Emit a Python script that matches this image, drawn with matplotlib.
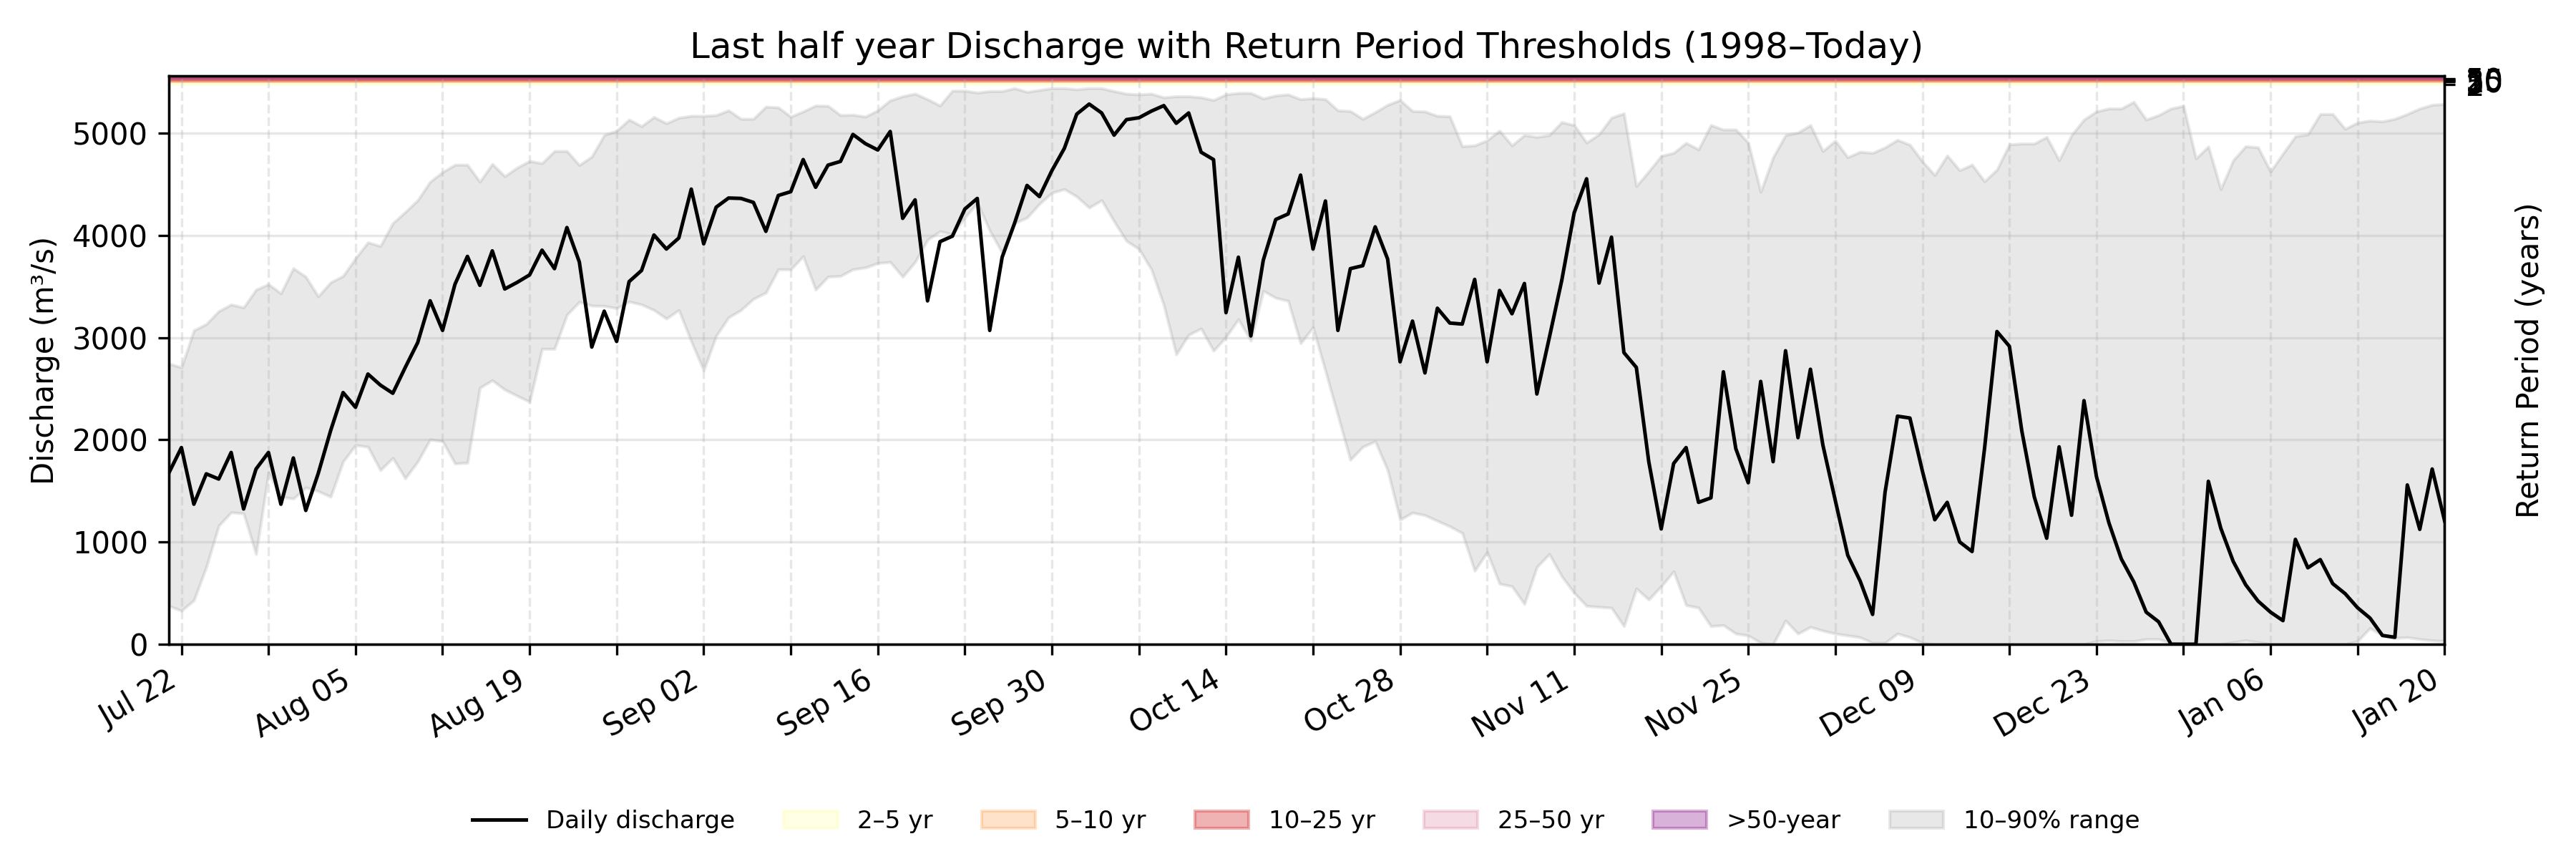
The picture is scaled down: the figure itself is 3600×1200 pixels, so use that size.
import numpy as np
import pandas as pd
import matplotlib
matplotlib.use("Agg")
import matplotlib.pyplot as plt
import matplotlib.dates as mdates

# daily values, 2024-07-21 .. 2025-01-20
start_date = "2024-07-21"

discharge = [
    1678, 1924, 1370, 1667, 1616, 1876, 1323, 1714, 1876, 1370, 1822, 1309, 1670, 2090,
    2462, 2318, 2643, 2535, 2455, 2708, 2951, 3360, 3070, 3522, 3794, 3511, 3848, 3475,
    3540, 3613, 3855, 3674, 4076, 3739, 2907, 3258, 2962, 3547, 3656, 4003, 3866, 3974,
    4452, 3917, 4275, 4365, 4361, 4322, 4039, 4390, 4427, 4741, 4470, 4687, 4723, 4987,
    4897, 4835, 5016, 4166, 4347, 3359, 3938, 3992, 4257, 4361, 3070, 3786, 4119, 4488,
    4379, 4633, 4850, 5186, 5284, 5197, 4980, 5132, 5150, 5215, 5269, 5096, 5197, 4813,
    4741, 3244, 3786, 3016, 3757, 4155, 4209, 4589, 3866, 4336, 3070, 3674, 3703, 4083,
    3768, 2763, 3161, 2654, 3287, 3142, 3132, 3569, 2763, 3461, 3233, 3529, 2448, 2998,
    3558, 4220, 4553, 3533, 3982, 2853, 2708, 1786, 1128, 1768, 1924, 1388, 1432, 2665,
    1913, 1580, 2571, 1786, 2871, 2021, 2690, 1949, 1406, 871, 618, 292, 1486, 2231,
    2213, 1696, 1218, 1388, 1001, 907, 1913, 3059, 2915, 2086, 1443, 1037, 1931, 1262,
    2383, 1641, 1189, 835, 610, 314, 220, 0, 0, 0, 1594, 1135, 810, 582,
    422, 314, 231, 1026, 748, 828, 593, 495, 357, 256, 86, 68, 1558, 1124,
    1714, 1207,
]

q90 = [
    2745, 2708, 3070, 3132, 3258, 3323, 3294, 3468, 3522, 3432, 3678, 3595, 3403, 3540,
    3602, 3775, 3931, 3895, 4119, 4228, 4343, 4524, 4618, 4690, 4690, 4524, 4698, 4578,
    4662, 4727, 4705, 4824, 4824, 4687, 4770, 4980, 5023, 5132, 5067, 5157, 5096, 5150,
    5168, 5168, 5175, 5222, 5139, 5139, 5258, 5251, 5161, 5211, 5269, 5266, 5175, 5179,
    5161, 5222, 5320, 5360, 5385, 5331, 5269, 5414, 5414, 5396, 5410, 5410, 5439, 5403,
    5421, 5439, 5439, 5428, 5439, 5439, 5410, 5385, 5378, 5385, 5349, 5360, 5360, 5349,
    5323, 5378, 5392, 5392, 5338, 5367, 5378, 5331, 5342, 5331, 5222, 5215, 5139, 5204,
    5276, 5323, 5215, 5211, 5168, 5164, 4871, 4879, 4929, 5023, 4879, 4980, 4962, 4980,
    5107, 5078, 4907, 4987, 5150, 5193, 4481, 4625, 4777, 4806, 4904, 4840, 5078, 5034,
    5034, 4907, 4426, 4763, 4980, 5005, 5078, 4824, 4926, 4763, 4817, 4806, 4860, 4933,
    4886, 4723, 4589, 4781, 4636, 4691, 4528, 4643, 4889, 4897, 4897, 4962, 4734, 4980,
    5132, 5211, 5240, 5240, 5305, 5132, 5175, 5240, 5266, 4752, 4868, 4452, 4734, 4871,
    4860, 4625, 4799, 4969, 4987, 5186, 5186, 5041, 5103, 5121, 5114, 5139, 5186, 5240,
    5276, 5284,
]

q10 = [
    375, 328, 430, 755, 1160, 1290, 1280, 882, 1678, 1443, 1424, 1533, 1497, 1443,
    1786, 1949, 1931, 1703, 1822, 1623, 1786, 2003, 1985, 1768, 1775, 2509, 2582, 2491,
    2430, 2372, 2889, 2889, 3222, 3349, 3312, 3309, 3287, 3352, 3323, 3269, 3186, 3269,
    2962, 2679, 3016, 3197, 3269, 3378, 3439, 3667, 3667, 3794, 3468, 3595, 3602, 3667,
    3685, 3728, 3739, 3595, 3739, 3956, 4039, 4010, 4173, 4318, 4047, 3830, 4119, 4173,
    4307, 4416, 4452, 4379, 4271, 4343, 4137, 3945, 3866, 3667, 3316, 2835, 3027, 3088,
    2871, 3005, 3179, 2969, 3457, 3388, 3359, 2944, 3099, 2672, 2238, 1804, 1931, 1985,
    1703, 1218, 1287, 1262, 1207, 1153, 1088, 719, 900, 592, 567, 394, 755, 882,
    665, 502, 375, 365, 357, 177, 545, 437, 567, 712, 383, 357, 177, 187,
    104, 86, 14, 0, 231, 104, 169, 133, 104, 86, 68, 14, 14, 104,
    68, 14, 0, 0, 0, 0, 0, 0, 0, 0, 0, 0, 0, 0,
    0, 30, 37, 30, 30, 50, 50, 14, 0, 0, 0, 0, 20, 37,
    20, 0, 0, 0, 0, 0, 0, 0, 30, 158, 86, 61, 68, 50,
    37, 30,
]

# return period thresholds (m3/s)
rp_labels = ["2", "5", "10", "25", "50"]
rp_values = [5476, 5504, 5511, 5522, 5532]
y_top = 5560

dates = pd.date_range(start_date, periods=len(discharge), freq="D")

fig, ax = plt.subplots(figsize=(12, 4), dpi=300)
fig.subplots_adjust(left=0.0656, right=0.949, top=0.9117, bottom=0.25)

ax.plot(dates, discharge, color="black", lw=1.2, label="Daily discharge", zorder=5)

# each band runs from its threshold to the top, so they stack up
ax.fill_between(dates, rp_values[0], y_top, color="yellow", alpha=0.1, label="2–5 yr")
ax.fill_between(dates, rp_values[1], y_top, color="tab:orange", alpha=0.22, label="5–10 yr")
ax.fill_between(dates, rp_values[2], y_top, color="tab:red", alpha=0.35, label="10–25 yr")
ax.fill_between(dates, rp_values[3], y_top, color="palevioletred", alpha=0.25, label="25–50 yr")
ax.fill_between(dates, rp_values[4], y_top, color="purple", alpha=0.3, label=">50-year")

ax.fill_between(dates, q10, q90, color="gray", alpha=0.18, label="10–90% range")

ax.set_xlim(dates[0], dates[-1])
ax.set_ylim(0, y_top)
ax.set_ylabel("Discharge (m³/s)")
ax.set_title("Last half year Discharge with Return Period Thresholds (1998–Today)", fontsize=12)

ax.xaxis.set_major_locator(mdates.WeekdayLocator(byweekday=mdates.MO, interval=2))
ax.xaxis.set_minor_locator(mdates.WeekdayLocator(byweekday=mdates.MO))
ax.xaxis.set_major_formatter(mdates.DateFormatter("%b %d"))
ax.tick_params(axis="x", which="minor", length=3.5, width=0.8)
ax.grid(axis="y", alpha=0.3)
ax.grid(axis="x", which="both", linestyle="--", alpha=0.3)
plt.setp(ax.get_xticklabels(), rotation=30, ha="right")

ax2 = ax.twinx()
ax2.set_ylim(ax.get_ylim())
ax2.set_yticks(rp_values)
ax2.set_yticklabels(rp_labels)
ax2.set_ylabel("Return Period (years)")

handles, labels = ax.get_legend_handles_labels()
fig.legend(handles, labels, loc="center", bbox_to_anchor=(0.507, 0.044),
           ncol=7, frameon=False, fontsize=8.2, handlelength=2.2)

fig.savefig("out.png", dpi=300)
